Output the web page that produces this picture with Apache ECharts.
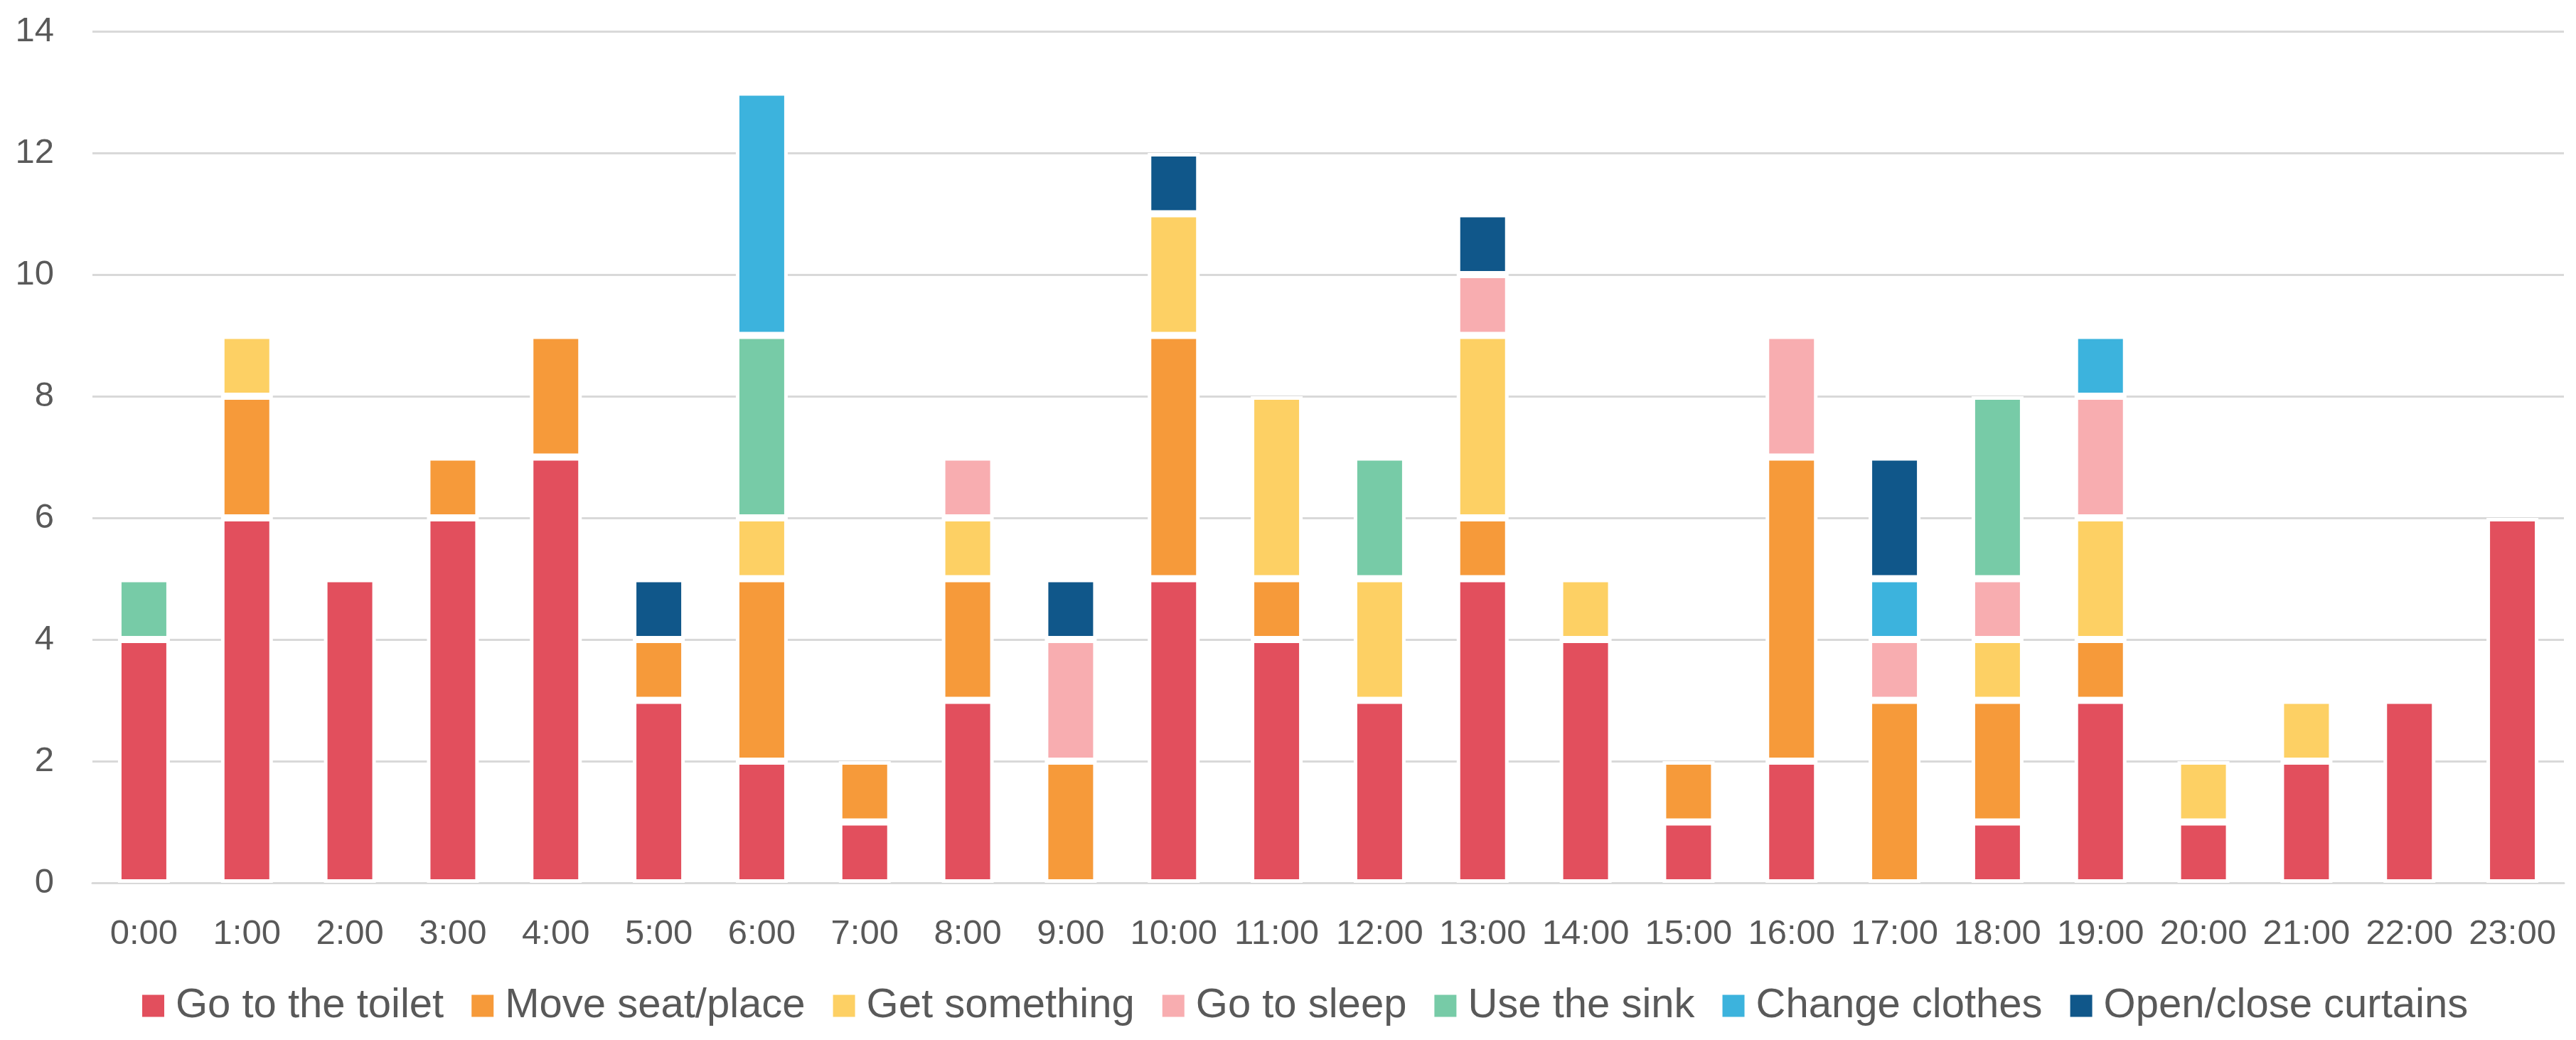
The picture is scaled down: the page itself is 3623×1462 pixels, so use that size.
<!DOCTYPE html>
<html>
<head>
<meta charset="utf-8">
<script src="https://cdn.jsdelivr.net/npm/echarts@6/dist/echarts.min.js"></script>
<style>
html,body{margin:0;padding:0;background:#fff;}
#chart{width:3623px;height:1462px;}
</style>
</head>
<body>
<div id="chart"></div>
<script>
const categories = ['0:00','1:00','2:00','3:00','4:00','5:00','6:00','7:00','8:00','9:00','10:00','11:00','12:00','13:00','14:00','15:00','16:00','17:00','18:00','19:00','20:00','21:00','22:00','23:00'];
const yTicks = [0, 2, 4, 6, 8, 10, 12, 14];

const goToToilet     = [4, 6, 5, 6, 7, 3, 2, 1, 3, 0, 5, 4, 3, 5, 4, 1, 2, 0, 1, 3, 1, 2, 3, 6];
const moveSeatPlace  = [0, 2, 0, 1, 2, 1, 3, 1, 2, 2, 4, 1, 0, 1, 0, 1, 5, 3, 2, 1, 0, 0, 0, 0];
const getSomething   = [0, 1, 0, 0, 0, 0, 1, 0, 1, 0, 2, 3, 2, 3, 1, 0, 0, 0, 1, 2, 1, 1, 0, 0];
const goToSleep      = [0, 0, 0, 0, 0, 0, 0, 0, 1, 2, 0, 0, 0, 1, 0, 0, 2, 1, 1, 2, 0, 0, 0, 0];
const useTheSink     = [1, 0, 0, 0, 0, 0, 3, 0, 0, 0, 0, 0, 2, 0, 0, 0, 0, 0, 3, 0, 0, 0, 0, 0];
const changeClothes  = [0, 0, 0, 0, 0, 0, 4, 0, 0, 0, 0, 0, 0, 0, 0, 0, 0, 1, 0, 1, 0, 0, 0, 0];
const openCurtains   = [0, 0, 0, 0, 0, 1, 0, 0, 0, 1, 1, 0, 0, 1, 0, 0, 0, 2, 0, 0, 0, 0, 0, 0];

const seriesNames = ['Go to the toilet','Move seat/place','Get something','Go to sleep','Use the sink','Change clothes','Open/close curtains'];
const seriesData = [goToToilet, moveSeatPlace, getSomething, goToSleep, useTheSink, changeClothes, openCurtains];
const colors = ['#E24F5D','#F69A3A','#FDD064','#F8ADB0','#77CBA7','#3CB3DD','#10578A'];

const chart = echarts.init(document.getElementById('chart'), null, {renderer:'canvas'});
const FONT = 'Liberation Sans';
chart.setOption({
  animation: false,
  backgroundColor: '#ffffff',
  color: colors,
  grid: { left: 130, right: 17, top: 44, bottom: 221, containLabel: false },
  legend: {
    data: seriesNames,
    left: 193,
    top: 1380,
    icon: 'rect',
    itemWidth: 33,
    itemHeight: 33,
    itemGap: 37,
    textStyle: { fontFamily: FONT, fontSize: 58, color: '#595959', padding: [0,0,0,10] }
  },
  xAxis: {
    type: 'category',
    data: categories,
    axisLine: { show: true, lineStyle: { color: '#D9D9D9', width: 3 } },
    axisTick: { show: false },
    axisLabel: { fontFamily: FONT, fontSize: 49, color: '#595959', margin: 48, interval: 0 }
  },
  yAxis: {
    type: 'value',
    min: yTicks[0],
    max: yTicks[yTicks.length - 1],
    interval: 2,
    axisLine: { show: false },
    axisTick: { show: false },
    splitLine: { lineStyle: { color: '#D9D9D9', width: 3 } },
    axisLabel: { fontFamily: FONT, fontSize: 49, color: '#595959', margin: 54 }
  },
  series: seriesNames.map((name, i) => ({
    name: name,
    type: 'bar',
    stack: 'total',
    barWidth: 73,
    data: seriesData[i].map(v => v === 0 ? null : v),
    itemStyle: { color: colors[i], borderColor: '#ffffff', borderWidth: 5 }
  }))
});
</script>
</body>
</html>
